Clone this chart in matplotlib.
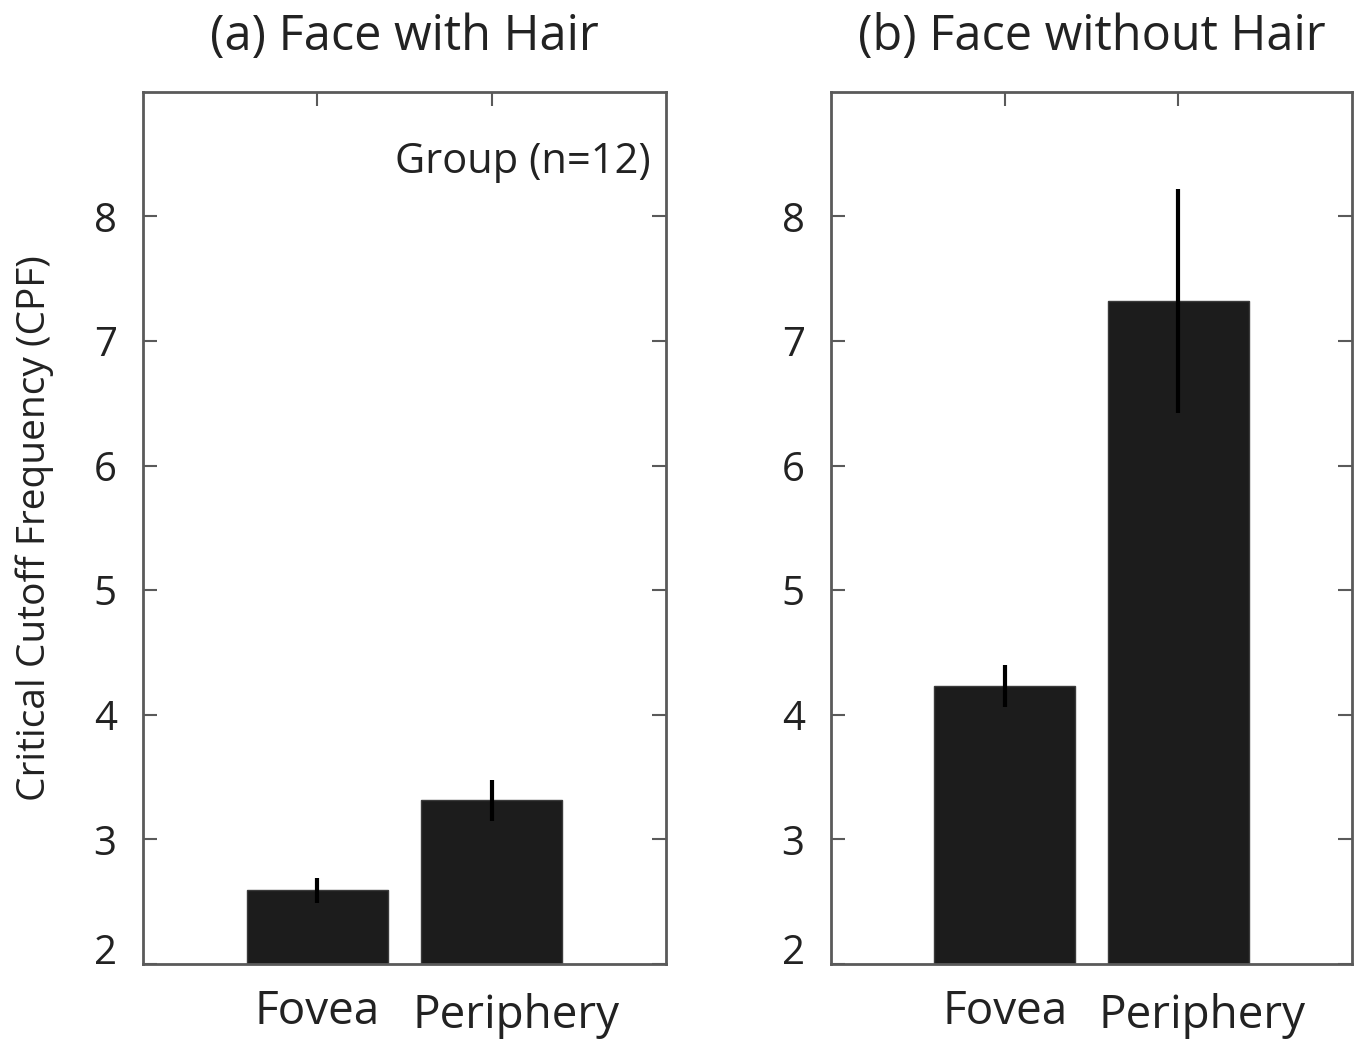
import matplotlib.pyplot as plt
import numpy as np
from matplotlib.transforms import ScaledTranslation

plt.rcParams["font.family"] = ["Open Sans", "DejaVu Sans"]

conditions = ["Fovea", "Periphery"]
titles = ["(a) Face with Hair", "(b) Face without Hair"]

# mean critical cutoff frequency and s.e.m. per panel
cpf_hair = [2.59, 3.315]
sem_hair = [0.10, 0.165]
cpf_nohair = [4.23, 7.32]
sem_nohair = [0.17, 0.90]

yticks = [2, 3, 4, 5, 6, 7, 8]

BAR = "#1c1c1c"
SPINE = "#5a5a5a"
TXT = "#222222"

fig = plt.figure(figsize=(13.61, 10.42), dpi=100)
ax_a = fig.add_axes([0.1051, 0.0749, 0.3843, 0.8369])
ax_b = fig.add_axes([0.6106, 0.0749, 0.3828, 0.8369])


def draw_panel(ax, means, sems, title):
    x = np.arange(1, len(means) + 1)
    ax.bar(x, means, width=0.81, bottom=0, color=BAR, edgecolor="#3a3a3a",
           linewidth=1, zorder=2)
    ax.errorbar(x, means, yerr=sems, fmt="none", ecolor="black",
                elinewidth=3, capsize=0, zorder=3)
    ax.set_xlim(0, 3)
    ax.set_ylim(2, 9)
    ax.set_yticks(yticks)
    ax.set_xticks(x)
    ax.set_xticklabels(conditions, fontsize=33, color=TXT)
    ax.tick_params(axis="both", direction="in", length=10, width=1.5,
                   color=SPINE, top=True, right=True, labelcolor=TXT)
    ax.tick_params(axis="y", pad=19, labelsize=29)
    ax.tick_params(axis="x", pad=18, labelsize=33)
    for sp in ax.spines.values():
        sp.set_color(SPINE)
        sp.set_linewidth(2)

    # lowest y label sits on the axis line
    ylabs = ax.get_yticklabels()
    ylabs[0].set_verticalalignment("baseline")
    # Periphery label is set a bit further right and lower
    xlabs = ax.get_xticklabels()
    xlabs[1].set_transform(xlabs[1].get_transform() +
                           ScaledTranslation(0.24, -0.04, fig.dpi_scale_trans))

    ax.set_title(title, fontsize=35, pad=30, color=TXT)


draw_panel(ax_a, cpf_hair, sem_hair, titles[0])
draw_panel(ax_b, cpf_nohair, sem_nohair, titles[1])

ax_a.set_ylabel("Critical Cutoff Frequency (CPF)", fontsize=28, color=TXT)
ax_a.yaxis.set_label_coords(-0.17, 0.5)
ax_a.text(0.97, 0.92, "Group (n=12)", transform=ax_a.transAxes,
          ha="right", va="center", fontsize=30, color=TXT)

fig.savefig("out.png", dpi=100)
